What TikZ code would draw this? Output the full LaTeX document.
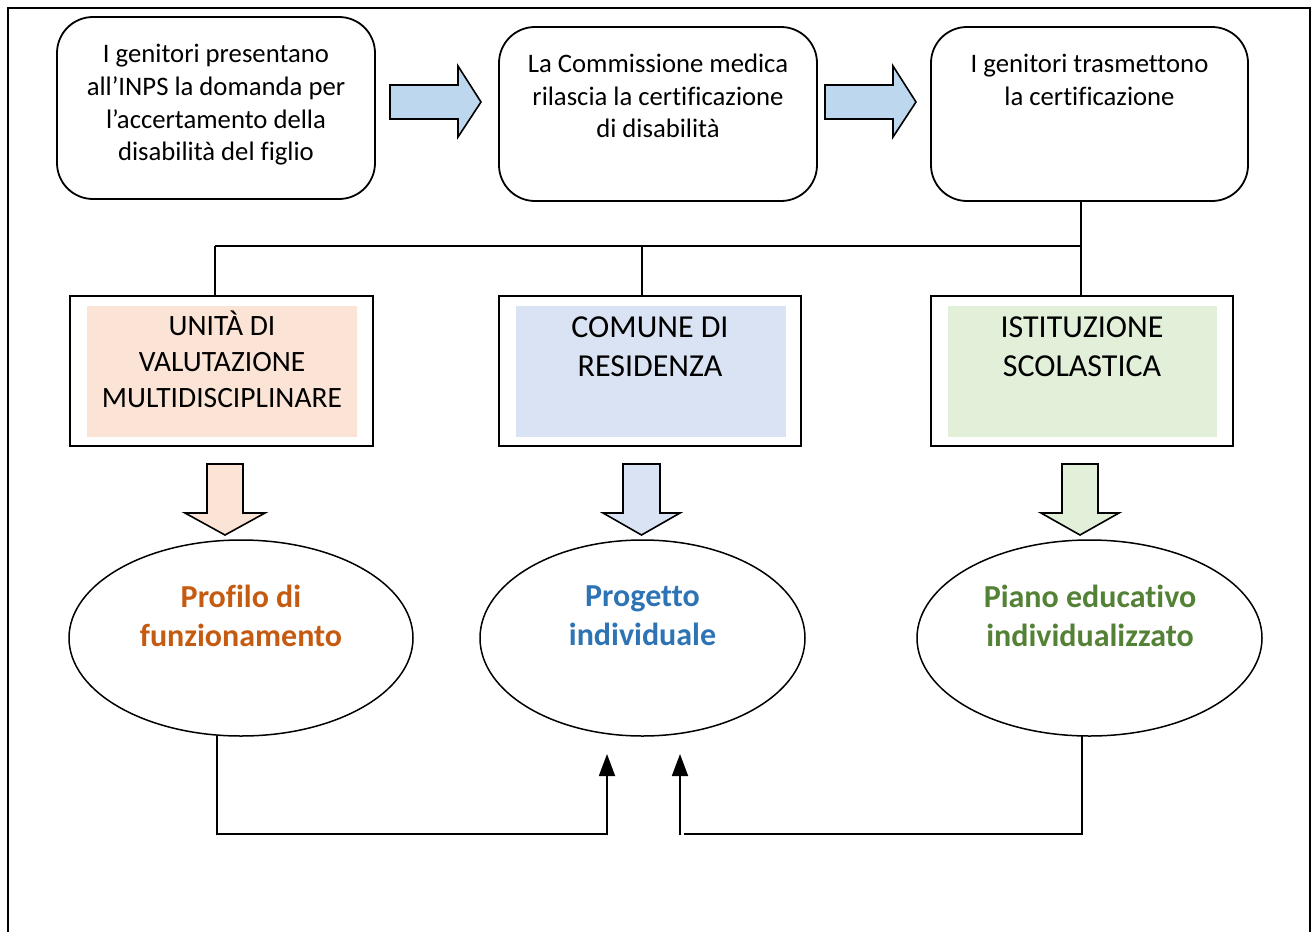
\documentclass[tikz,border=0pt]{standalone}
\usepackage{fontspec}
\setmainfont{Carlito}[Ligatures=NoCommon]
\usetikzlibrary{arrows.meta,calc,shapes.geometric}
\definecolor{pinkF}{HTML}{FBE4D5}
\definecolor{blueF}{HTML}{DAE3F3}
\definecolor{greenF}{HTML}{E2EFD9}
\definecolor{arrBlue}{HTML}{BDD7EE}
\definecolor{txtOr}{HTML}{C55A11}
\definecolor{txtBl}{HTML}{2E74B5}
\definecolor{txtGr}{HTML}{538135}
\begin{document}
\begin{tikzpicture}[x=1pt,y=-1pt,
  rbox/.style={draw, line width=1.8pt, rounded corners=36pt, inner sep=0pt},
  sbox/.style={draw, line width=2.2pt, inner sep=0pt},
  fillbox/.style={inner sep=0pt},
  txt/.style={align=center, inner sep=0pt, font=\fontsize{26.7}{32.7}\selectfont},
  mtxtA/.style={align=center, inner sep=0pt, font=\fontsize{29.5}{36}\selectfont},
  mtxt/.style={align=center, inner sep=0pt, font=\fontsize{32}{39}\selectfont},
  etxt/.style={align=center, inner sep=0pt, font=\fontsize{32}{39}\selectfont\bfseries},
  ell/.style={draw, ellipse, line width=1.5pt, inner sep=0pt, minimum height=196pt},
  conn/.style={draw, line width=1.8pt},
  blockarr/.style={draw, line width=1.6pt, line join=miter},
  tip/.style={-{Triangle[length=22pt,width=16pt]}}
]
\useasboundingbox (0,0) rectangle (1312,932);
% outer frame
\draw[line width=2pt] (8,932) -- (8,8) -- (1310,8) -- (1310,932);

% top row
\node[rbox, minimum width=318pt, minimum height=182pt] (b1) at (216,108) {};
\node[txt] (t1) at (216,105) {I genitori presentano\\all’INPS la domanda per\\l’accertamento della\\disabilità del figlio};
\node[rbox, minimum width=318pt, minimum height=174pt] (b2) at (658,114) {};
\node[txt] (t2) at (658,96) {La Commissione medica\\rilascia la certificazione\\di disabilità};
\node[rbox, minimum width=317pt, minimum height=174pt] (b3) at (1089.5,114) {};
\node[txt] (t3) at (1089.5,80) {I genitori trasmettono\\la certificazione};

% block arrows right
\draw[blockarr, fill=arrBlue] (390,85) -- (458,85) -- (458,66) -- (481,102) -- (458,137) -- (458,119) -- (390,119) -- cycle;
\draw[blockarr, fill=arrBlue] (825,85) -- (893,85) -- (893,66) -- (916,102) -- (893,137) -- (893,119) -- (825,119) -- cycle;

% middle row
\node[sbox, minimum width=303pt, minimum height=150pt] (mA) at (221.5,371) {};
\node[fillbox, fill=pinkF, minimum width=270pt, minimum height=131pt] (fA) at (222,371.5) {};
\node[mtxtA] (tA) at (222,359) {UNITÀ DI\\VALUTAZIONE\\MULTIDISCIPLINARE};
\node[sbox, minimum width=302pt, minimum height=150pt] (mB) at (650,371) {};
\node[fillbox, fill=blueF, minimum width=270pt, minimum height=131pt] (fB) at (651,371.5) {};
\node[mtxt] (tB) at (650,347) {COMUNE DI\\RESIDENZA};
\node[sbox, minimum width=302pt, minimum height=150pt] (mC) at (1082,371) {};
\node[fillbox, fill=greenF, minimum width=269pt, minimum height=131pt] (fC) at (1082.5,371.5) {};
\node[mtxt] (tC) at (1082,347) {ISTITUZIONE\\SCOLASTICA};

% tree connectors
\draw[conn] (b3.south -| 1081,0) -- (1081,246) coordinate (j);
\draw[conn] (215,246) -- (j);
\draw[conn] (j) -- (mC.north -| 1081,0);
\draw[conn] (215,246) -- (mA.north -| 215,0);
\draw[conn] (642,246) -- (mB.north -| 642,0);

% down block arrows
\draw[blockarr, fill=pinkF] (207,464) -- (243,464) -- (243,513) -- (265,513) -- (225,535) -- (185,513) -- (207,513) -- cycle;
\draw[blockarr, fill=blueF] (623,464) -- (660,464) -- (660,513) -- (680,513) -- (641.5,535) -- (603,513) -- (623,513) -- cycle;
\draw[blockarr, fill=greenF] (1062,464) -- (1098,464) -- (1098,513) -- (1119,513) -- (1080,535) -- (1041,513) -- (1062,513) -- cycle;

% ellipses
\node[ell, minimum width=344pt] (eA) at (241,638) {};
\node[etxt, text=txtOr] (etA) at (241,616) {Profilo di\\funzionamento};
\node[ell, minimum width=325pt] (eB) at (642.5,638) {};
\node[etxt, text=txtBl] (etB) at (642.5,616) {Progetto\\individuale};
\node[ell, minimum width=345pt] (eC) at (1089.5,638) {};
\node[etxt, text=txtGr] (etC) at (1090,616) {Piano educativo\\individualizzato};

% bottom connectors
\coordinate (inB1) at (607,754);
\coordinate (inB2) at (680,754);
\draw[conn, tip] ($(eA.south)+(-24,-1)$) |- (607,834) -- (inB1);
\draw[conn] ($(eC.south)+(-7.5,-1)$) |- (684,834);
\draw[conn, tip] (680,835) -- (inB2);
\end{tikzpicture}
\end{document}
